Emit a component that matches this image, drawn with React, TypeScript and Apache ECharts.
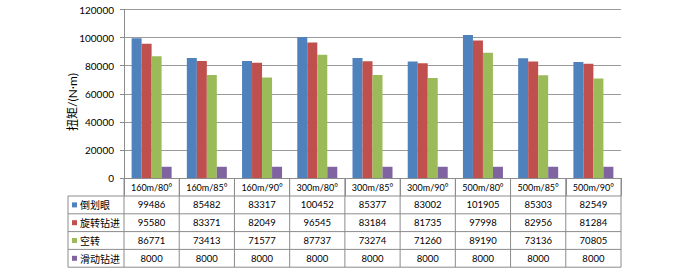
import React, { useEffect, useRef } from "react";
import * as echarts from "echarts";

const categories = ["160m/80°", "160m/85°", "160m/90°", "300m/80°", "300m/85°", "300m/90°", "500m/80°", "500m/85°", "500m/90°"];
const seriesNames = ["倒划眼", "旋转钻进", "空转", "滑动钻进"];
const daoHuaYan = [99486, 85482, 83317, 100452, 85377, 83002, 101905, 85303, 82549];
const xuanZhuan = [95580, 83371, 82049, 96545, 83184, 81735, 97998, 82956, 81284];
const kongZhuan = [86771, 73413, 71577, 87737, 73274, 71260, 89190, 73136, 70805];
const huaDong = [8000, 8000, 8000, 8000, 8000, 8000, 8000, 8000, 8000];
const colors = ["#4F81BD", "#C0504D", "#9BBB59", "#8064A2"];
const yAxisName = "扭矩/(N·m)";

const FONT = "Lato, 'Noto Sans CJK SC', sans-serif";
const CJK = "'Noto Sans CJK SC', sans-serif";

export default function App() {
  const ref = useRef<HTMLDivElement>(null);
  useEffect(() => {
    if (!ref.current) return;
    const chart = echarts.init(ref.current, null, { renderer: "svg" });
    const gridLeft = 124;
    const gridRight = 621;
    const gridTop = 9.5;
    const gridBottom = 178;
    const all = [daoHuaYan, xuanZhuan, kongZhuan, huaDong];
    chart.setOption({
      animation: false,
      backgroundColor: "#ffffff",
      grid: { left: gridLeft, right: 678 - gridRight, top: gridTop, bottom: 276 - gridBottom },
      xAxis: {
        type: "category",
        data: categories,
        axisLine: { lineStyle: { color: "#8c8c8c", width: 1 } },
        axisTick: { show: true, length: 18, alignWithLabel: false, lineStyle: { color: "#8c8c8c" } },
        axisLabel: { margin: 5, fontSize: 9, color: "#000", fontFamily: FONT, interval: 0 },
      },
      yAxis: {
        type: "value",
        min: 0,
        max: 120000,
        interval: 20000,
        axisLine: { show: true, lineStyle: { color: "#8c8c8c" } },
        axisTick: { show: true, length: 4, lineStyle: { color: "#8c8c8c" } },
        axisLabel: { fontSize: 10, color: "#000", fontFamily: FONT, margin: 10, formatter: (v: number) => String(v) },
        splitLine: { lineStyle: { color: "#9a9a9a", width: 1 } },
      },
      series: all.map((d, i) => ({
        type: "bar",
        name: seriesNames[i],
        data: d,
        barWidth: 10,
        barGap: "0%",
        itemStyle: { color: colors[i] },
      })),
    });

    const colW = (gridRight - gridLeft) / categories.length;
    const rowTop = 196;
    const rowH = 17.8;
    const tableLeft = 68;
    const lineColor = "#8c8c8c";
    const elements: any[] = [];
    for (let r = 0; r <= seriesNames.length; r++) {
      const y = rowTop + r * rowH;
      elements.push({ type: "line", shape: { x1: tableLeft, y1: y, x2: gridRight, y2: y }, style: { stroke: lineColor, lineWidth: 1 } });
    }
    const bottomY = rowTop + seriesNames.length * rowH;
    elements.push({ type: "line", shape: { x1: tableLeft, y1: rowTop, x2: tableLeft, y2: bottomY }, style: { stroke: lineColor, lineWidth: 1 } });
    for (let c = 0; c <= categories.length; c++) {
      const x = gridLeft + c * colW;
      elements.push({ type: "line", shape: { x1: x, y1: gridBottom, x2: x, y2: bottomY }, style: { stroke: lineColor, lineWidth: 1 } });
    }
    seriesNames.forEach((name, r) => {
      const cy = rowTop + r * rowH + rowH / 2;
      elements.push({ type: "rect", shape: { x: 72, y: cy - 2.5, width: 5, height: 5 }, style: { fill: colors[r] } });
      elements.push({ type: "text", x: 80, y: cy, style: { text: name, font: `10px ${CJK}`, fill: "#000", align: "left", verticalAlign: "middle" } });
      all[r].forEach((v, c) => {
        const cx = chart.convertToPixel({ xAxisIndex: 0 }, c) as number;
        elements.push({ type: "text", x: cx, y: cy, style: { text: String(v), font: `9.5px ${FONT}`, fill: "#000", align: "center", verticalAlign: "middle" } });
      });
    });
    elements.push({ type: "text", x: 72, y: 102, rotation: Math.PI / 2, style: { text: yAxisName, font: `12px ${FONT}`, fill: "#000", align: "center", verticalAlign: "middle" } });
    chart.setOption({ graphic: { elements } });
    return () => chart.dispose();
  }, []);
  return <div ref={ref} style={{ position: "fixed", left: 0, top: 0, width: 678, height: 276 }} />;
}
